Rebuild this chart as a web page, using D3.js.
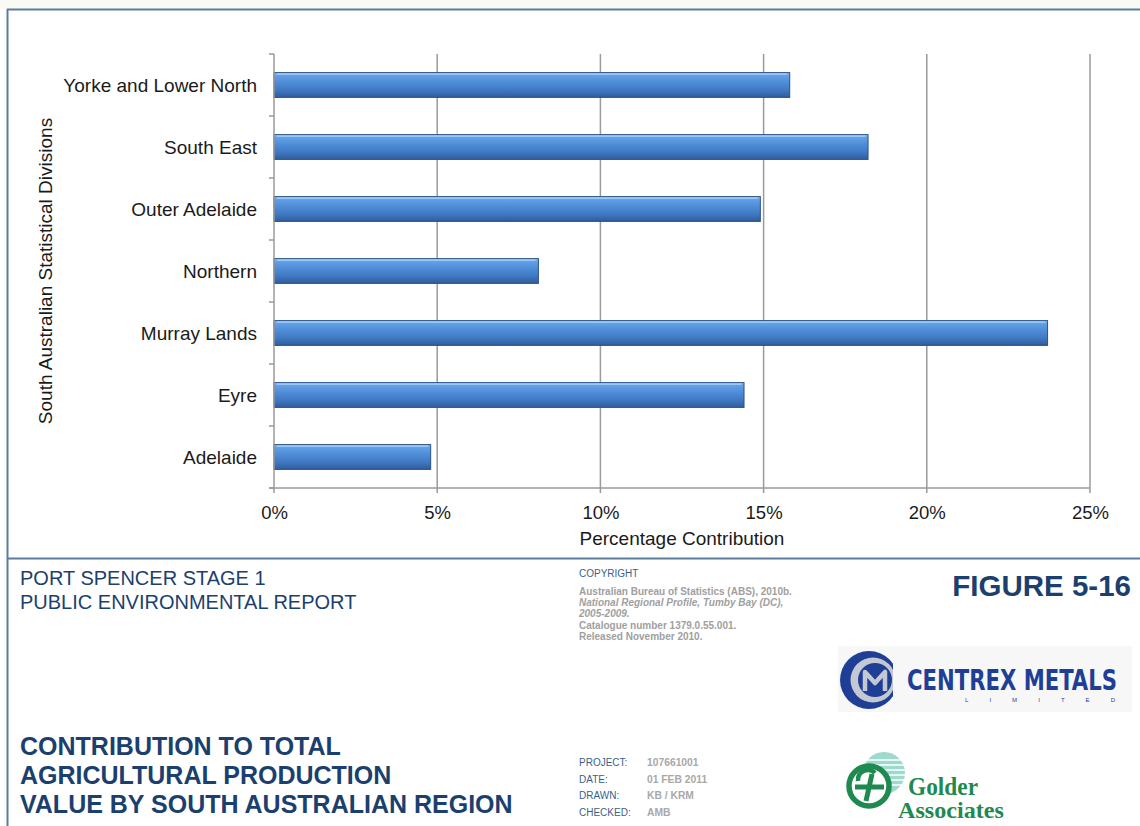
<!DOCTYPE html>
<html>
<head>
<meta charset="utf-8">
<script src="https://cdn.jsdelivr.net/npm/d3@7/dist/d3.min.js"></script>
<style>
  html, body { margin: 0; padding: 0; background: #ffffff; }
  svg { display: block; font-family: "Liberation Sans", Arial, sans-serif; }
</style>
</head>
<body>
<svg id="fig" width="1140" height="826"></svg>
<script>
// Share of total agricultural production value, by statistical division (%)
const categories = ["Yorke and Lower North", "South East", "Outer Adelaide", "Northern", "Murray Lands", "Eyre", "Adelaide"];
const values = [15.8, 18.2, 14.9, 8.1, 23.7, 14.4, 4.8];
const xTicks = [0, 5, 10, 15, 20, 25];

const copyrightLines = [
  { text: "Australian Bureau of Statistics (ABS), 2010b.", italic: false },
  { text: "National Regional Profile, Tumby Bay (DC),", italic: true },
  { text: "2005-2009.", italic: true },
  { text: "Catalogue number 1379.0.55.001.", italic: false },
  { text: "Released November 2010.", italic: false }
];
const projectLabels = ["PROJECT:", "DATE:", "DRAWN:", "CHECKED:"];
const projectValues = ["107661001", "01 FEB 2011", "KB / KRM", "AMB"];
const titleLines = ["CONTRIBUTION TO TOTAL", "AGRICULTURAL PRODUCTION", "VALUE BY SOUTH AUSTRALIAN REGION"];

const svg = d3.select("#fig");
const W = 1140, H = 826;

// ---- page frame ----
svg.append("rect").attr("x", 0).attr("y", 0).attr("width", W).attr("height", 9).attr("fill", "#fafaf4");
const frame = "#5a7c9e";
svg.append("line").attr("x1", 7).attr("x2", W).attr("y1", 9.5).attr("y2", 9.5).attr("stroke", frame).attr("stroke-width", 2);
svg.append("line").attr("x1", 7.5).attr("x2", 7.5).attr("y1", 9).attr("y2", H).attr("stroke", frame).attr("stroke-width", 2);
svg.append("line").attr("x1", 7).attr("x2", W).attr("y1", 558.5).attr("y2", 558.5).attr("stroke", frame).attr("stroke-width", 2);

// ---- chart ----
const plot = { left: 274, right: 1090, top: 54, bottom: 488 };
const x = d3.scaleLinear().domain([0, 25]).range([plot.left, plot.right]);
const y = d3.scaleBand().domain(categories).range([plot.top, plot.bottom]).paddingInner(0.6).paddingOuter(0.3);

const defs = svg.append("defs");
const grad = defs.append("linearGradient").attr("id", "barGrad").attr("x1", 0).attr("x2", 0).attr("y1", 0).attr("y2", 1);
[["0%", "#92c6f6"], ["12%", "#62a0e6"], ["40%", "#4f8cd7"], ["72%", "#3f78c2"], ["100%", "#2e5c9a"]]
  .forEach(([o, c]) => grad.append("stop").attr("offset", o).attr("stop-color", c));

const gridColor = "#9a9a9a";
// vertical gridlines
svg.append("g").selectAll("line").data(xTicks.slice(1)).join("line")
  .attr("x1", d => x(d)).attr("x2", d => x(d))
  .attr("y1", plot.top).attr("y2", plot.bottom + 5)
  .attr("stroke", gridColor).attr("stroke-width", 1.5);

// bars
const bars = svg.append("g");
bars.selectAll("rect").data(values).join("rect")
  .attr("x", x(0))
  .attr("y", (d, i) => y(categories[i]))
  .attr("width", d => x(d) - x(0))
  .attr("height", y.bandwidth())
  .attr("fill", "url(#barGrad)")
  .attr("stroke", "#2b5186").attr("stroke-width", 1);
// bevel highlight along the top face
bars.selectAll("line").data(values).join("line")
  .attr("x1", x(0) + 3).attr("x2", d => x(d) - 3)
  .attr("y1", (d, i) => y(categories[i]) + 1.5)
  .attr("y2", (d, i) => y(categories[i]) + 1.5)
  .attr("stroke", "#b3d8fb").attr("stroke-width", 1.2).attr("opacity", 0.8);

// y axis line and tick marks at band boundaries
svg.append("line").attr("x1", plot.left).attr("x2", plot.left).attr("y1", plot.top).attr("y2", plot.bottom + 5)
  .attr("stroke", gridColor).attr("stroke-width", 1.5);
const bounds = d3.range(categories.length + 1).map(i => plot.top + i * y.step());
svg.append("g").selectAll("line").data(bounds).join("line")
  .attr("x1", plot.left - 5).attr("x2", plot.left)
  .attr("y1", d => d).attr("y2", d => d)
  .attr("stroke", gridColor).attr("stroke-width", 1.5);
// x axis line
svg.append("line").attr("x1", plot.left - 5).attr("x2", plot.right).attr("y1", plot.bottom).attr("y2", plot.bottom)
  .attr("stroke", gridColor).attr("stroke-width", 1.5);

// x tick labels
const xAxis = d3.axisBottom(x).tickValues(xTicks).tickFormat(d => d + "%").tickSize(0).tickPadding(0);
const xg = svg.append("g").attr("transform", `translate(0,${plot.bottom})`).call(xAxis);
xg.select(".domain").remove();
xg.selectAll("text").attr("dy", null).attr("y", 31).attr("font-size", 18.5).attr("fill", "#1a1a1a")
  .attr("font-family", "'Liberation Sans', Arial, sans-serif");

// category labels
const yAxis = d3.axisLeft(y).tickSize(0).tickPadding(17);
const yg = svg.append("g").attr("transform", `translate(${plot.left},0)`).call(yAxis);
yg.select(".domain").remove();
yg.selectAll("text").attr("font-size", 19).attr("fill", "#1a1a1a").attr("dy", "0.35em")
  .attr("font-family", "'Liberation Sans', Arial, sans-serif");

// axis titles
svg.append("text").attr("x", (plot.left + plot.right) / 2).attr("y", 545).attr("text-anchor", "middle")
  .attr("font-size", 19).attr("fill", "#1a1a1a").text("Percentage Contribution");
svg.append("text").attr("transform", `translate(52,${(plot.top + plot.bottom) / 2}) rotate(-90)`)
  .attr("text-anchor", "middle").attr("font-size", 19).attr("fill", "#1a1a1a")
  .text("South Australian Statistical Divisions");

// ---- title block ----
const navy = "#1b3f6e";
svg.append("text").attr("x", 20).attr("y", 585).attr("font-size", 20).attr("fill", navy).text("PORT SPENCER STAGE 1");
svg.append("text").attr("x", 20).attr("y", 609).attr("font-size", 20).attr("fill", navy).text("PUBLIC ENVIRONMENTAL REPORT");

svg.append("text").attr("x", 1131).attr("y", 596).attr("text-anchor", "end").attr("font-size", 29.5)
  .attr("font-weight", "bold").attr("fill", navy).text("FIGURE 5-16");

svg.append("g").selectAll("text").data(titleLines).join("text")
  .attr("x", 20).attr("y", (d, i) => 755 + i * 29)
  .attr("font-size", 25).attr("font-weight", "bold").attr("fill", navy).text(d => d);

// copyright note
svg.append("text").attr("x", 579).attr("y", 577).attr("font-size", 10).attr("fill", "#3a5f8a").text("COPYRIGHT");
svg.append("g").selectAll("text").data(copyrightLines).join("text")
  .attr("x", 579).attr("y", (d, i) => 595 + i * 11.2)
  .attr("font-size", 10).attr("font-weight", "bold").attr("fill", "#a0a0a0")
  .attr("font-style", d => d.italic ? "italic" : "normal").text(d => d.text);

// project details
svg.append("g").selectAll("text").data(projectLabels).join("text")
  .attr("x", 579).attr("y", (d, i) => 766 + i * 16.5)
  .attr("font-size", 10).attr("fill", "#3a5f8a").text(d => d);
svg.append("g").selectAll("text").data(projectValues).join("text")
  .attr("x", 647).attr("y", (d, i) => 766 + i * 16.5)
  .attr("font-size", 10.3).attr("font-weight", "bold").attr("fill", "#a8a8a8").text(d => d);

// ---- Centrex Metals logo ----
const cmBg = "#f7f7f7", cmBlue = "#1e3f95", cmGrey = "#c4c8d2";
const cm = svg.append("g");
cm.append("rect").attr("x", 838).attr("y", 646).attr("width", 294).attr("height", 66).attr("fill", cmBg);
cm.append("circle").attr("cx", 869).attr("cy", 680).attr("r", 29).attr("fill", cmBlue);
cm.append("circle").attr("cx", 873).attr("cy", 680).attr("r", 22.5).attr("fill", cmGrey);
cm.append("circle").attr("cx", 875).attr("cy", 680).attr("r", 17).attr("fill", cmBlue);
cm.append("path").attr("d", "M865,691 L865,672 L875,683 L885,672 L885,691")
  .attr("fill", "none").attr("stroke", cmGrey).attr("stroke-width", 4.5).attr("stroke-linejoin", "round");
// opening of the "C"
cm.append("path").attr("d", "M893,664 L902,664 L902,696 L893,696 Z").attr("fill", cmBg);
// word mark, squeezed horizontally to its condensed width
const cmText = cm.append("text").attr("x", 0).attr("y", 0).attr("font-size", 29).attr("font-weight", "bold")
  .attr("fill", cmBlue)
  .attr("font-family", "'DejaVu Sans Condensed', 'Liberation Sans Narrow', sans-serif").text("CENTREX METALS");
const cmW = cmText.node().getComputedTextLength() || 210;
cmText.attr("transform", `translate(907,690) scale(${210 / cmW},1)`);
cm.append("text").attr("x", 965).attr("y", 702).attr("font-size", 6).attr("fill", cmBlue)
  .attr("textLength", 150).attr("lengthAdjust", "spacing").text("LIMITED");

// ---- Golder Associates logo ----
const gGreen = "#1f8a4f";
const ga = svg.append("g");
ga.append("circle").attr("cx", 884).attr("cy", 773).attr("r", 21).attr("fill", "#3bb39a").attr("opacity", 0.5);
ga.append("g").selectAll("line").data(d3.range(6)).join("line")
  .attr("x1", 866).attr("x2", 905).attr("y1", i => 760 + i * 5).attr("y2", i => 760 + i * 5)
  .attr("stroke", "#ffffff").attr("stroke-width", 1.4);
ga.append("circle").attr("cx", 869).attr("cy", 786).attr("r", 20).attr("fill", "#ffffff")
  .attr("stroke", gGreen).attr("stroke-width", 5.5);
ga.append("path").attr("d", "M855,787 L884,787 M872,774 L866,801")
  .attr("stroke", gGreen).attr("stroke-width", 5).attr("fill", "none");
ga.append("path").attr("d", "M858,781 a10,10 0 0 1 17,-8")
  .attr("stroke", gGreen).attr("stroke-width", 4.5).attr("fill", "none");
const gt = ga.append("text").attr("font-weight", "bold")
  .attr("font-family", "'Liberation Serif', 'DejaVu Serif', serif").attr("fill", gGreen);
gt.append("tspan").attr("x", 908).attr("y", 795).attr("font-size", 25)
  .attr("textLength", 70).attr("lengthAdjust", "spacingAndGlyphs").text("Golder");
gt.append("tspan").attr("x", 898).attr("y", 818).attr("font-size", 23)
  .attr("textLength", 106).attr("lengthAdjust", "spacingAndGlyphs").text("Associates");
</script>
</body>
</html>
